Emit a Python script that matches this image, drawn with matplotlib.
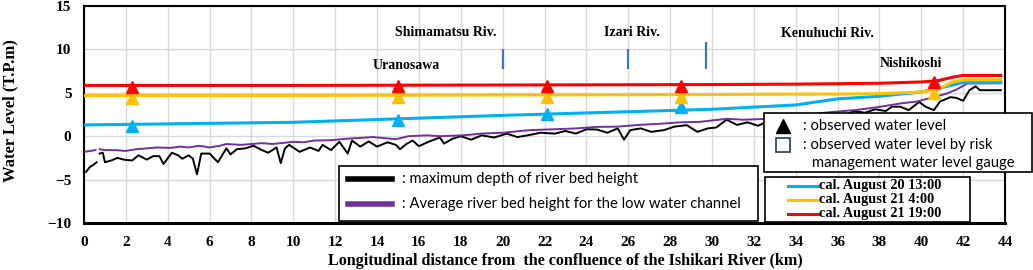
import numpy as np
import matplotlib
matplotlib.use("Agg")
import matplotlib.pyplot as plt
from matplotlib.patches import Rectangle
from matplotlib.lines import Line2D

# --- data ---
# maximum depth of river bed height (km, T.P.m)
bed_max_km = [0.1, 0.3, 0.45, 0.6, 0.7, 0.75, 0.9, 1.0, 1.3, 1.6, 1.9, 2.3, 2.6, 3.0, 3.3,
              3.6, 3.8, 4.2, 4.5, 4.7, 5.0, 5.2, 5.4, 5.6, 6.0, 6.4, 6.8, 7.0, 7.3, 7.7,
              8.1, 8.5, 8.8, 9.2, 9.4, 9.6, 9.8, 10.3, 10.8, 11.2, 11.4, 11.8, 12.2, 12.6,
              12.8, 13.2, 13.6, 14.0, 14.5, 14.9, 15.1, 15.4, 15.7, 16.0, 16.5, 17.0, 17.2,
              17.6, 18.0, 18.5, 19.0, 19.6, 20.2, 20.7, 21.2, 21.8, 22.5, 23.0, 23.5, 24.0,
              24.5, 25.0, 25.5, 25.8, 26.1, 26.6, 27.1, 27.7, 28.2, 28.8, 29.3, 29.8, 30.2,
              30.7, 31.2, 31.7, 32.2, 32.6, 33.1, 33.6, 34.1, 34.6, 35.2, 35.8, 36.3, 36.8,
              37.3, 37.8, 38.3, 38.6, 39.0, 39.4, 39.9, 40.2, 40.6, 40.9, 41.4, 41.7, 42.0,
              42.3, 42.6, 42.8, 43.2, 43.8]
bed_max_val = [-4.1, -3.5, -3.3, -3.0, np.nan, -2.0, -1.9, -3.0, -2.8, -2.5, -2.7, -2.8, -2.2, -2.7, -2.3,
               -2.3, -3.2, -1.9, -2.2, -2.6, -2.2, -2.6, -4.4, -2.0, -2.0, -3.0, -1.4, -2.1, -1.5, -1.4,
               -1.1, -1.6, -1.9, -1.3, -3.1, -1.4, -1.0, -1.8, -1.3, -1.7, -1.0, -1.6, -0.65, -2.0,
               -0.5, -1.2, -0.6, -1.2, -0.7, -1.0, -1.5, -0.9, -0.5, -1.15, -0.6, -0.15, -0.85,
               -0.3, 0.0, -0.4, 0.1, -0.15, 0.3, -0.1, 0.1, 0.4, 0.3, 0.6, 0.3, 0.8,
               0.77, 0.4, 0.9, -0.4, 0.7, 0.9, 0.5, 0.7, 1.1, 1.27, 0.5, 0.9, 1.0,
               1.9, 1.3, 1.6, 1.2, 1.65, 1.5, 2.0, 1.9, 2.3, 2.1, 2.6, 2.4, 2.9,
               2.7, 3.1, 2.9, 3.4, 3.4, 3.0, 3.95, 3.4, 3.0, 4.0, 4.5, 4.4, 4.07,
               5.3, 5.75, 5.3, 5.3, 5.3]

# average river bed height for the low water channel
bed_avg_km = [0.0, 0.3, 0.55, 0.65, 0.75, 1.0, 1.5, 2.0, 2.5, 3.0, 3.5, 4.1, 4.6, 5.0, 5.5,
              6.0, 6.5, 6.8, 7.5, 8.0, 8.5, 9.0, 10.0, 10.5, 11.0, 11.8, 12.5, 13.2, 13.8,
              14.9, 15.5, 16.4, 17.0, 18.1, 19.0, 20.0, 21.3, 22.5, 23.5, 24.5, 25.5, 26.5,
              27.7, 28.5, 29.4, 30.7, 31.5, 32.6, 33.5, 34.5, 35.8, 36.8, 37.8, 39.0, 39.8,
              40.6, 41.2, 41.7, 42.2, 43.8]
bed_avg_val = [-1.8, -1.7, -1.6, np.nan, -1.5, -1.6, -1.6, -1.7, -1.5, -1.4, -1.3, -1.35, -1.2, -1.3, -1.1,
               -1.3, -1.1, -0.9, -1.0, -0.9, -0.8, -0.9, -0.65, -0.7, -0.5, -0.46, -0.3, -0.2, -0.1,
               -0.35, 0.0, 0.1, 0.0, 0.1, 0.3, 0.4, 0.7, 0.8, 0.9, 1.07, 1.1, 1.3,
               1.46, 1.6, 1.65, 2.0, 1.9, 2.0, 2.3, 2.5, 2.8, 3.0, 3.3, 3.77, 4.0,
               4.5, 4.9, 5.4, 6.07, 6.1]

# calculated water levels
cal_km = [0.0, 10.0, 20.0, 30.0, 34.0, 36.0, 38.0, 40.0, 40.8, 41.5, 42.0, 43.8]
cal_0820_1300 = [1.3, 1.6, 2.4, 3.1, 3.6, 4.3, 4.6, 5.1, 5.5, 5.9, 6.2, 6.2]
cal_0821_0400 = [4.7, 4.7, 4.75, 4.8, 4.85, 4.85, 4.9, 5.1, 5.4, 6.25, 6.5, 6.5]
cal_0821_1900 = [5.85, 5.85, 5.9, 5.95, 6.0, 6.05, 6.1, 6.25, 6.4, 6.8, 7.0, 7.0]

# observed water levels (triangles)
obs_km = [2.3, 15.0, 22.1, 28.5, 40.6]
obs_0820_1300 = [1.2, 1.9, 2.6, 3.4, np.nan]
obs_0821_0400 = [4.4, 4.5, 4.5, 4.5, 5.0]
obs_0821_1900 = [5.7, 5.8, 5.8, 5.8, 6.2]

# tributaries and places
trib_km = [20.0, 26.0, 29.7]
trib_top = [10.0, 10.0, 10.8]
trib_bottom = [7.7, 7.7, 7.7]
labels = [("Shimamatsu Riv.", 17.3, 11.9), ("Izari Riv.", 26.2, 11.9),
          ("Kenuhuchi Riv.", 35.5, 11.8), ("Uranosawa", 15.4, 8.2),
          ("Nishikoshi", 39.5, 8.4)]

C_CYAN, C_ORANGE, C_RED, C_PURPLE = "#00B0F0", "#FFC000", "#FF0000", "#7030A0"
SERIF = "Liberation Serif"
SANS = "Lato"

W, H = 1033, 270
fig = plt.figure(figsize=(W / 100, H / 100), dpi=100)
ax = fig.add_axes([84 / W, 47 / H, 921 / W, 217 / H])


def fx(x):
    return x / W


def fy(y):
    return 1 - y / H


ax.plot(bed_max_km, bed_max_val, color="black", lw=1.4, zorder=3)
ax.plot(bed_avg_km, bed_avg_val, color=C_PURPLE, lw=1.4, zorder=3)
ax.plot(cal_km, cal_0820_1300, color=C_CYAN, lw=2.2, zorder=4)
ax.plot(cal_km, cal_0821_0400, color=C_ORANGE, lw=2.2, zorder=4)
ax.plot(cal_km, cal_0821_1900, color=C_RED, lw=2.2, zorder=4)
ax.plot(obs_km, obs_0820_1300, "^", color=C_CYAN, ms=9, zorder=5)
ax.plot(obs_km, obs_0821_0400, "^", color=C_ORANGE, ms=9, zorder=5)
ax.plot(obs_km, obs_0821_1900, "^", color=C_RED, ms=9, zorder=5)

ax.vlines(trib_km, trib_bottom, trib_top, color="#4472C4", lw=1.6, zorder=4)
for txt, x, y in labels:
    ax.text(x, y, txt, ha="center", va="center", fontsize=10, fontweight="bold",
            family=SERIF, zorder=6)

ax.set_xlim(0, 44)
ax.set_ylim(-10, 15)
ax.set_xticks(np.arange(0, 45, 2))
ax.set_yticks(np.arange(-10, 16, 5))
ax.grid(True, color="#D9D9D9", lw=1.0)
ax.set_axisbelow(True)
ax.tick_params(length=0, pad=9)
for lab in ax.get_xticklabels() + ax.get_yticklabels():
    lab.set_family(SERIF)
    lab.set_fontweight("bold")
    lab.set_fontsize(11)
for s in ax.spines.values():
    s.set_linewidth(1.5)
ax.spines["bottom"].set_linewidth(2.2)
ax.set_xlabel("Longitudinal distance from  the confluence of the Ishikari River (km)",
              family=SERIF, fontweight="bold", fontsize=11.6)
ax.xaxis.set_label_coords(0.523, -0.138)
ax.set_ylabel("Water Level (T.P.m)", family=SERIF, fontweight="bold", fontsize=12)
ax.yaxis.set_label_coords(-0.071, 0.52)

# legend 1: river bed
fig.add_artist(Rectangle((fx(339), fy(221)), fx(758) - fx(339), fy(166) - fy(221),
                         transform=fig.transFigure, facecolor="white", edgecolor="black",
                         lw=1.2, zorder=10))
for yy, col, txt in [(179, "black", ": maximum depth of river bed height"),
                     (204, C_PURPLE, ": Average river bed height for the low water channel")]:
    fig.add_artist(Line2D([fx(348), fx(392)], [fy(yy), fy(yy)], color=col, lw=4,
                          transform=fig.transFigure, zorder=11))
    fig.text(fx(402), fy(yy), txt, ha="left", va="center", fontsize=10.6, family=SANS,
             zorder=11)

# legend 2: observed
fig.add_artist(Rectangle((fx(764), fy(172)), fx(1032) - fx(764), fy(113) - fy(172),
                         transform=fig.transFigure, facecolor="white", edgecolor="black",
                         lw=1.2, zorder=10, clip_on=False))
fig.add_artist(Line2D([fx(783)], [fy(126)], marker="^", color="black", ms=10, ls="none",
                      transform=fig.transFigure, zorder=11))
fig.add_artist(Line2D([fx(783)], [fy(145)], marker="s", mfc="white", mec="#1F3864", mew=1.2,
                      ms=10, ls="none", transform=fig.transFigure, zorder=11))
fig.text(fx(803), fy(126), ": observed water level", ha="left", va="center", fontsize=10.6,
         family=SANS, zorder=11)
fig.text(fx(803), fy(145), ": observed water level by risk", ha="left", va="center",
         fontsize=10.6, family=SANS, zorder=11)
fig.text(fx(812), fy(163), "management water level gauge", ha="left", va="center",
         fontsize=10.6, family=SANS, zorder=11)

# legend 3: calculated
fig.add_artist(Rectangle((fx(765), fy(222)), fx(970) - fx(765), fy(177) - fy(222),
                         transform=fig.transFigure, facecolor="white", edgecolor="black",
                         lw=1.2, zorder=10))
for yy, col, txt in [(186, C_CYAN, "cal. August 20 13:00"),
                     (200, C_ORANGE, "cal. August 21 4:00"),
                     (214, C_RED, "cal. August 21 19:00")]:
    fig.add_artist(Line2D([fx(788), fx(818)], [fy(yy), fy(yy)], color=col, lw=2.2,
                          transform=fig.transFigure, zorder=11))
    fig.text(fx(819), fy(yy), txt, ha="left", va="center", fontsize=10.3, fontweight="bold",
             family=SERIF, zorder=11)

fig.savefig("out.png", dpi=100)
